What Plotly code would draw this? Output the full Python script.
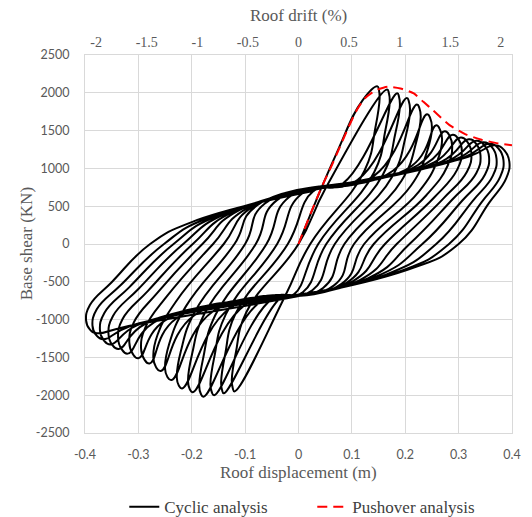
import plotly.graph_objects as go

# ---------------- values ----------------
# Pushover analysis (roof displacement [m], base shear [kN])
push_x = [0.0, 0.040, 0.063, 0.076, 0.094, 0.109, 0.124, 0.143, 0.167, 0.191, 0.216, 0.234,
          0.252, 0.283, 0.313, 0.343, 0.374, 0.400]
push_y = [0, 700, 1050, 1260, 1550, 1770, 1925, 2026, 2079, 2057, 1991, 1880,
          1770, 1573, 1450, 1380, 1331, 1305]

# Cyclic analysis: first loading branch
init_x = [0.0, 0.070, 0.120]
init_y = [0, 1180, 1900]

# Cyclic analysis: key points of each cycle (positive excursion)
pos_top_x = [0.148, 0.166, 0.185, 0.203, 0.222, 0.241, 0.258, 0.274, 0.289, 0.304, 0.319, 0.333, 0.346, 0.358, 0.368]
pos_top_y = [2085, 2045, 1995, 1930, 1845, 1715, 1570, 1490, 1445, 1410, 1385, 1365, 1345, 1325, 1305]
pos_tip_x = [0.152, 0.171, 0.190, 0.209, 0.229, 0.250, 0.269, 0.288, 0.306, 0.324, 0.341, 0.357, 0.371, 0.384, 0.395]
pos_tip_y = [1930, 1890, 1840, 1770, 1680, 1540, 1380, 1290, 1230, 1195, 1170, 1150, 1130, 1110, 1090]
pos_knee_x = [None, None, 0.083, 0.111, 0.142, 0.177, 0.212, 0.224, 0.239, 0.254, 0.269, 0.283, 0.296, 0.308, 0.318]
pos_knee_y = [None, None, 799, 849, 905, 969, 1032, 1045, 1062, 1078, 1094, 1110, 1125, 1140, 1155]
unload_zero_x = [0.022, 0.037, 0.052, 0.068, 0.086, 0.104, 0.123, 0.141, 0.162, 0.184, 0.208, 0.232, 0.258, 0.282, 0.300]
unload_bend_x = [-0.025, -0.008, 0.008, 0.026, 0.046, 0.066, 0.080, 0.090, 0.100, 0.115, 0.130, 0.145, 0.165, 0.185, 0.200]
unload_bend_y = [-688, -663, -638, -611, -581, -551, -530, -515, -500, -477, -455, -432, -402, -372, -350]

# Cyclic analysis: key points of each cycle (negative excursion)
neg_knee_x = [None, -0.031, -0.049, -0.070, -0.099, -0.127, -0.160, -0.195, -0.229, -0.250, -0.270, -0.287, -0.302, -0.316, -0.328]
neg_knee_y = [None, -696, -723, -755, -798, -840, -890, -942, -985, -1010, -1035, -1055, -1072, -1088, -1100]
neg_bot_x = [-0.120, -0.140, -0.158, -0.178, -0.198, -0.218, -0.238, -0.258, -0.279, -0.300, -0.320, -0.337, -0.352, -0.366, -0.378]
neg_bot_y = [-1950, -1975, -2000, -2020, -1960, -1910, -1800, -1680, -1580, -1510, -1450, -1390, -1330, -1260, -1180]
neg_tip_x = [-0.125, -0.145, -0.165, -0.186, -0.207, -0.228, -0.250, -0.272, -0.295, -0.317, -0.338, -0.356, -0.372, -0.386, -0.398]
neg_tip_y = [-1800, -1830, -1860, -1880, -1820, -1770, -1650, -1500, -1380, -1300, -1240, -1190, -1140, -1080, -1010]
reload_zero_x = [0.000, -0.020, -0.040, -0.060, -0.080, -0.100, -0.120, -0.140, -0.160, -0.180, -0.198, -0.216, -0.234, -0.252, -0.278]
reload_bend_x = [0.051, 0.028, 0.005, -0.018, -0.041, -0.063, -0.078, -0.085, -0.095, -0.110, -0.120, -0.135, -0.150, -0.170, -0.200]
reload_bend_y = [741, 700, 659, 618, 577, 536, 510, 497, 479, 452, 434, 407, 380, 344, 290]
shoulder_frac = [0.22, 0.22, 0.23, 0.24, 0.25, 0.27, 0.30, 0.33, 0.36, 0.38, 0.40, 0.40, 0.40, 0.40, 0.40]
end_x, end_y = 0.030, 704

# tick labels
x_ticks = [-0.4, -0.3, -0.2, -0.1, 0, 0.1, 0.2, 0.3, 0.4]
x_tick_text = ["-0.4", "-0.3", "-0.2", "-0.1", "0", "0.1", "0.2", "0.3", "0.4"]
drift_ticks = [-2, -1.5, -1, -0.5, 0, 0.5, 1, 1.5, 2]
drift_tick_text = ["-2", "-1.5", "-1", "-0.5", "0", "0.5", "1", "1.5", "2"]
y_ticks = [-2500, -2000, -1500, -1000, -500, 0, 500, 1000, 1500, 2000, 2500]
y_tick_text = ["-2500", "-2000", "-1500", "-1000", "-500", "0", "500", "1000", "1500", "2000", "2500"]

# ---------------- build the cyclic path ----------------
cx, cy = list(init_x), list(init_y)
N = len(pos_top_x)


def add(x, y):
    cx.append(x)
    cy.append(y)


def reload_from(j):
    tx, ty = neg_tip_x[j], neg_tip_y[j]
    add(tx + 0.06 * (reload_zero_x[j] - tx), 0.8 * ty)
    add(tx + shoulder_frac[j] * (reload_zero_x[j] - tx), 0.5 * ty)
    add(reload_zero_x[j], 0)
    add(reload_bend_x[j], reload_bend_y[j])


for i in range(N):
    if i > 0:
        reload_from(i - 1)
        if pos_knee_x[i] is not None:
            add(pos_knee_x[i], pos_knee_y[i])
    # positive peak, rounded tip, unloading
    add(pos_top_x[i], pos_top_y[i])
    add(pos_top_x[i] + 0.65 * (pos_tip_x[i] - pos_top_x[i]),
        pos_top_y[i] - 0.3 * (pos_top_y[i] - pos_tip_y[i]))
    add(pos_tip_x[i], pos_tip_y[i])
    add(pos_tip_x[i] - 0.06 * (pos_tip_x[i] - unload_zero_x[i]), 0.8 * pos_tip_y[i])
    add(pos_tip_x[i] - shoulder_frac[i] * (pos_tip_x[i] - unload_zero_x[i]), 0.5 * pos_tip_y[i])
    add(unload_zero_x[i], 0)
    add(unload_bend_x[i], unload_bend_y[i])
    if neg_knee_x[i] is not None:
        add(neg_knee_x[i], neg_knee_y[i])
    # negative peak, rounded tip
    add(neg_bot_x[i], neg_bot_y[i])
    add(neg_bot_x[i] + 0.65 * (neg_tip_x[i] - neg_bot_x[i]),
        neg_bot_y[i] - 0.3 * (neg_bot_y[i] - neg_tip_y[i]))
    add(neg_tip_x[i], neg_tip_y[i])
reload_from(N - 1)
add(end_x, end_y)

fig = go.Figure()
fig.add_trace(go.Scatter(x=cx, y=cy, mode="lines", name="Cyclic analysis",
                         line=dict(color="black", width=2, shape="spline", smoothing=1.3)))
fig.add_trace(go.Scatter(x=push_x, y=push_y, mode="lines", name="Pushover analysis",
                         line=dict(color="#ff0000", width=2, dash="10px,6px", shape="spline", smoothing=0.6)))
# invisible trace to carry the top drift axis
fig.add_trace(go.Scatter(x=[-2, 2], y=[0, 0], xaxis="x2", mode="markers",
                         marker=dict(opacity=0), showlegend=False, hoverinfo="skip"))

grid = "#d9d9d9"
tick_font = dict(family="Lato, 'Liberation Sans', sans-serif", size=12.5, color="#595959")
serif = "'Liberation Serif', 'Times New Roman', serif"

fig.update_layout(
    width=532, height=517,
    margin=dict(l=85, r=11, t=55, b=84),
    paper_bgcolor="white", plot_bgcolor="white",
    showlegend=True,
    legend=dict(orientation="h", x=0.092, xanchor="left", y=0.019, yref="container",
                yanchor="middle", font=dict(family=serif, size=17, color="#404040"),
                entrywidth=143, entrywidthmode="pixels", tracegroupgap=0),
    xaxis=dict(range=[-0.4, 0.4], tickvals=x_ticks, ticktext=x_tick_text, showgrid=True,
               gridcolor=grid, gridwidth=1, zeroline=False, showline=True, linecolor=grid,
               mirror=True, ticks="", tickfont=tick_font, ticklabelstandoff=10),
    xaxis2=dict(range=[-2.11, 2.11], overlaying="x", side="top", tickvals=drift_ticks,
                ticktext=drift_tick_text, showgrid=False, zeroline=False, showline=False,
                ticks="", tickfont=dict(family=serif, size=14, color="#595959"),
                ticklabelstandoff=4),
    yaxis=dict(range=[-2500, 2500], tickvals=y_ticks, ticktext=y_tick_text, showgrid=True,
               gridcolor=grid, gridwidth=1, zeroline=False, showline=True, linecolor=grid,
               mirror=True, ticks="", tickfont=tick_font, ticklabelstandoff=12),
    annotations=[
        dict(text="Roof displacement (m)", xref="paper", yref="paper", x=0.5, y=-0.1058,
             xanchor="center", yanchor="middle", showarrow=False,
             font=dict(family=serif, size=17, color="#595959")),
        dict(text="Roof drift (%)", xref="paper", yref="paper", x=0.5, y=1.1058,
             xanchor="center", yanchor="middle", showarrow=False,
             font=dict(family=serif, size=17, color="#595959")),
        dict(text="Base shear (KN)", xref="paper", yref="paper", x=-0.1376, y=0.5,
             xanchor="center", yanchor="middle", showarrow=False, textangle=-90,
             font=dict(family=serif, size=17, color="#595959")),
    ],
)

fig.write_html("out.html")
